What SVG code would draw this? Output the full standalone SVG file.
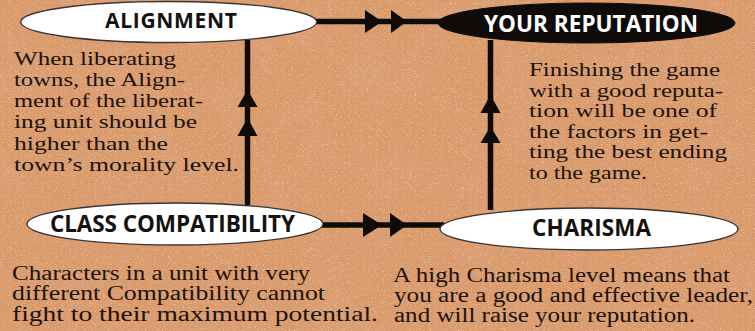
<svg xmlns="http://www.w3.org/2000/svg" width="755" height="331" viewBox="0 0 755 331">
<style>
.bg{fill:#da9b6c}
.node{fill:#ffffff;stroke:#3a3532;stroke-width:1.3}
.dark{fill:#0e0b09;stroke:#0e0b09;stroke-width:1}
.title{font-family:"Open Sans","Liberation Sans",sans-serif;font-weight:700;font-size:22.5px;fill:#15110e}
.titleW{fill:#ffffff}
.body{font-family:"Liberation Serif","DejaVu Serif",serif;font-size:19px;fill:#1c120b}
.body2{font-size:20px}
.line{stroke:#0e0b09;stroke-width:5.5;fill:none}
.head{fill:#0e0b09}
</style>
<defs>
<filter id="grain" x="0" y="0" width="100%" height="100%">
<feTurbulence type="fractalNoise" baseFrequency="0.85" numOctaves="2" seed="7" result="n"/>
<feColorMatrix in="n" type="matrix" values="0 0 0 0 0.99  0 0 0 0 0.9  0 0 0 0 0.8  2.6 0 0 0 -1.5"/>
</filter>
<filter id="mottle" x="0" y="0" width="100%" height="100%">
<feTurbulence type="fractalNoise" baseFrequency="0.02" numOctaves="3" seed="2" result="m"/>
<feColorMatrix in="m" type="matrix" values="0 0 0 0 0.7  0 0 0 0 0.38  0 0 0 0 0.24  1.6 0 0 0 -0.7"/>
</filter>
</defs>
<rect class="bg" x="0" y="0" width="755" height="331"/>
<rect x="0" y="0" width="755" height="331" filter="url(#mottle)" opacity="0.45"/>
<rect x="0" y="0" width="755" height="331" filter="url(#grain)" opacity="0.7"/>

<g id="connectors">
<line class="line" x1="315" y1="21.5" x2="442" y2="21.5"/>
<polygon class="head" points="365,10 382,21.5 365,33"/>
<polygon class="head" points="391,10 407,21.5 391,33"/>
<line class="line" x1="322" y1="225" x2="444" y2="225"/>
<polygon class="head" points="363,213 382,225 363,237"/>
<polygon class="head" points="390,213 407,225 390,237"/>
<line class="line" x1="247.5" y1="40" x2="247.5" y2="205"/>
<polygon class="head" points="237.5,107 247.5,90 257.5,107"/>
<polygon class="head" points="237.5,136 247.5,118 257.5,136"/>
<line class="line" x1="490.5" y1="40" x2="490.5" y2="210"/>
<polygon class="head" points="480.5,113 490.5,95 500.5,113"/>
<polygon class="head" points="480.5,143 490.5,126.5 500.5,143"/>
</g>

<g id="alignment">
<ellipse class="node" cx="168.7" cy="22" rx="148" ry="20.5"/>
<text class="title" x="105" y="28" style="font-size:21px" textLength="132" lengthAdjust="spacing">ALIGNMENT</text>
<g class="body">
<text x="14" y="65" textLength="162" lengthAdjust="spacingAndGlyphs">When liberating</text>
<text x="14" y="86" textLength="171" lengthAdjust="spacingAndGlyphs">towns, the Align-</text>
<text x="14" y="107" textLength="189" lengthAdjust="spacingAndGlyphs">ment of the liberat-</text>
<text x="14" y="128" textLength="183" lengthAdjust="spacingAndGlyphs">ing unit should be</text>
<text x="14" y="149.5" textLength="154" lengthAdjust="spacingAndGlyphs">higher than the</text>
<text x="14" y="171" textLength="225" lengthAdjust="spacingAndGlyphs">town’s morality level.</text>
</g>
</g>

<g id="your-reputation">
<ellipse class="dark" cx="586.5" cy="23" rx="148.5" ry="20"/>
<text class="title titleW" x="484" y="32.3" textLength="214" lengthAdjust="spacing">YOUR REPUTATION</text>
<g class="body">
<text x="529" y="76" textLength="191" lengthAdjust="spacingAndGlyphs">Finishing the game</text>
<text x="529" y="96.5" textLength="194" lengthAdjust="spacingAndGlyphs">with a good reputa-</text>
<text x="529" y="117" textLength="188" lengthAdjust="spacingAndGlyphs">tion will be one of</text>
<text x="529" y="137.5" textLength="179" lengthAdjust="spacingAndGlyphs">the factors in get-</text>
<text x="529" y="158" textLength="198" lengthAdjust="spacingAndGlyphs">ting the best ending</text>
<text x="529" y="178.5" textLength="118" lengthAdjust="spacingAndGlyphs">to the game.</text>
</g>
</g>

<g id="class-compatibility">
<ellipse class="node" cx="175" cy="224" rx="148" ry="21"/>
<text class="title" x="50" y="232" textLength="245" lengthAdjust="spacing">CLASS COMPATIBILITY</text>
<g class="body body2">
<text x="12" y="279.5" textLength="298" lengthAdjust="spacingAndGlyphs">Characters in a unit with very</text>
<text x="12" y="300" textLength="313" lengthAdjust="spacingAndGlyphs">different Compatibility cannot</text>
<text x="12" y="320.5" textLength="366" lengthAdjust="spacingAndGlyphs">fight to their maximum potential.</text>
</g>
</g>

<g id="charisma">
<ellipse class="node" cx="589" cy="229" rx="149" ry="21"/>
<text class="title" x="532" y="236" textLength="119" lengthAdjust="spacing">CHARISMA</text>
<g class="body body2">
<text x="393" y="282" textLength="337" lengthAdjust="spacingAndGlyphs">A high Charisma level means that</text>
<text x="394" y="302" textLength="359" lengthAdjust="spacingAndGlyphs">you are a good and effective leader,</text>
<text x="394" y="322" textLength="301" lengthAdjust="spacingAndGlyphs">and will raise your reputation.</text>
</g>
</g>
</svg>
